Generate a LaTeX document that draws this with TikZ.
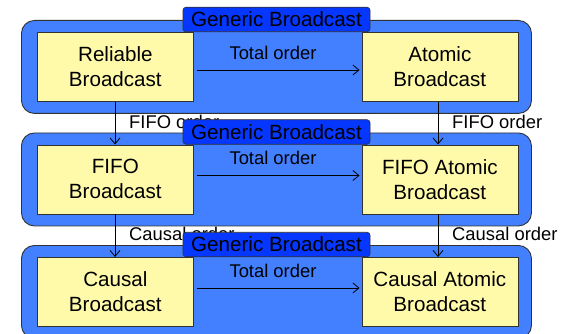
\documentclass[tikz,border=0pt]{standalone}
\usepackage{fontspec}
\setmainfont{Liberation Sans}
\usetikzlibrary{arrows.meta,positioning}
\definecolor{bandblue}{RGB}{66,128,255}
\definecolor{labelblue}{RGB}{5,55,255}
\definecolor{boxyellow}{RGB}{255,250,170}
\definecolor{edgegray}{RGB}{50,50,50}
\tikzset{
  band/.style={draw=edgegray,line width=0.9pt,fill=bandblue,rounded corners=13pt,
    minimum width=510pt,minimum height=93pt,inner sep=0pt,anchor=north west},
  bcastbox/.style={draw=edgegray,line width=0.7pt,fill=boxyellow,
    minimum width=156pt,minimum height=69pt,inner sep=0pt,anchor=north west,
    align=center,font=\fontsize{20.6}{25}\selectfont},
  genlabel/.style={draw=edgegray,line width=0.7pt,fill=labelblue,rounded corners=3pt,
    minimum width=187pt,minimum height=24.5pt,inner sep=0pt,
    font=\fontsize{20.6}{25}\selectfont},
  edgelabel/.style={font=\fontsize{18.4}{22}\selectfont,inner sep=0pt},
  arr/.style={draw=black,line width=0.8pt,-{Straight Barb[length=6pt,width=10pt]}}
}
\begin{document}
\begin{tikzpicture}[x=1pt,y=-1pt]
\useasboundingbox (0,0) rectangle (567,334);
% bands
\node[band] (band1) at (21,20) {};
\node[band] (band2) at (21,132.5) {};
\node[band] (band3) at (21,245) {};
% boxes
\node[bcastbox] (rb) at (37,32) {Reliable\\Broadcast};
\node[bcastbox] (ab) at (361.5,32) {Atomic\\Broadcast};
\node[bcastbox] (fb) at (37,144.5) {FIFO\\Broadcast};
\node[bcastbox] (fab) at (361.5,144.5) {FIFO Atomic\\Broadcast};
\node[bcastbox] (cb) at (37,257) {Causal\\Broadcast};
\node[bcastbox] (cab) at (361.5,257) {Causal Atomic\\Broadcast};
% horizontal arrows
\coordinate (h1s) at (197,70); \coordinate (h1e) at (359.5,70);
\coordinate (h2s) at (197,175.5); \coordinate (h2e) at (359.5,175.5);
\coordinate (h3s) at (197,288); \coordinate (h3e) at (359.5,288);
\draw[arr] (h1s) -- (h1e);
\draw[arr] (h2s) -- (h2e);
\draw[arr] (h3s) -- (h3e);
\node[edgelabel] (t1) at (273,53) {Total order};
\node[edgelabel] (t2) at (273,158) {Total order};
\node[edgelabel] (t3) at (273,271) {Total order};
% vertical arrows
\draw[arr] (rb.south -| 115,0) -- (fb.north -| 115,0);
\draw[arr] (ab.south -| 438,0) -- (fab.north -| 438,0);
\draw[arr] (fb.south -| 115,0) -- (cb.north -| 115,0);
\draw[arr] (fab.south -| 438,0) -- (cab.north -| 438,0);
\node[edgelabel,anchor=west] (f1) at (129,122) {FIFO order};
\node[edgelabel,anchor=west] (f2) at (452,122) {FIFO order};
\node[edgelabel,anchor=west] (c1) at (129,234) {Causal order};
\node[edgelabel,anchor=west] (c2) at (452,234) {Causal order};
% generic labels
\node[genlabel] (g1) at (276.5,19.5) {Generic Broadcast};
\node[genlabel] (g2) at (276.5,132) {Generic Broadcast};
\node[genlabel] (g3) at (276.5,244.5) {Generic Broadcast};
\end{tikzpicture}
\end{document}
